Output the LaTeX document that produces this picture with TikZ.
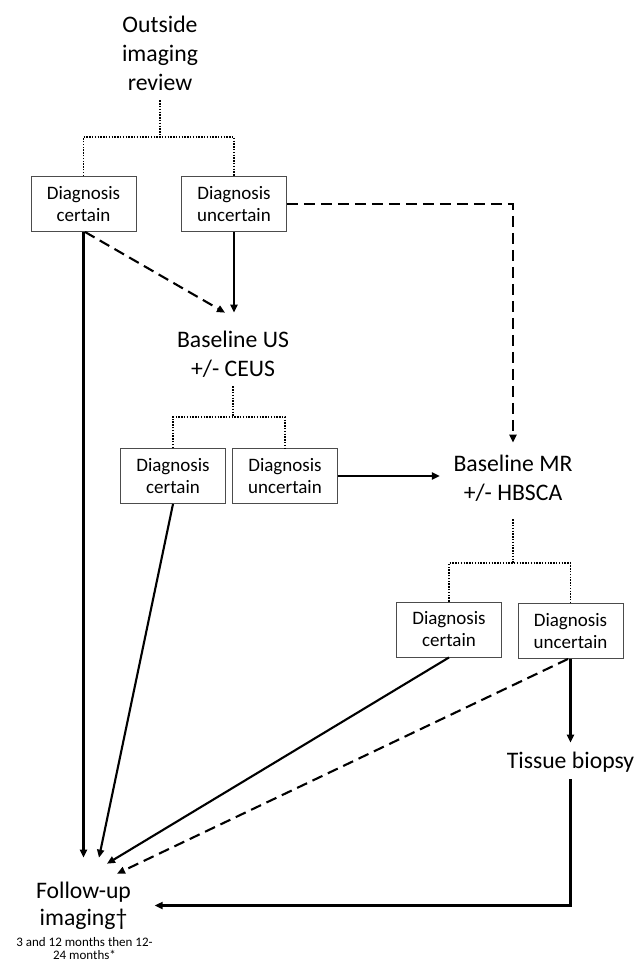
\documentclass[tikz,border=0pt]{standalone}
\usepackage{fontspec}
\setmainfont{Carlito}
\usetikzlibrary{arrows.meta,calc}
\begin{document}
\begin{tikzpicture}[x=1pt,y=-1pt,
  bigtext/.style={inner sep=0pt,align=center,font=\fontsize{23.7}{28.8}\selectfont},
  diagbox/.style={draw=black!70,line width=0.9pt,minimum width=105pt,minimum height=55pt,inner sep=0pt,align=center,font=\fontsize{19}{22}\selectfont},
  arr/.style={line width=2.1pt,-{Triangle[length=8pt,width=7pt]}},
  dasharr/.style={line width=2.1pt,dash pattern=on 11pt off 6pt,-{Triangle[length=8pt,width=7pt]}},
  dotline/.style={line width=1.5pt,dash pattern=on 1.4pt off 1.4pt}]
\useasboundingbox (0,0) rectangle (638,965);
% text nodes
\node[bigtext] (out) at (160,53.5) {Outside\\imaging\\review};
\node[bigtext] (us) at (233,354) {Baseline US\\+/- CEUS};
\node[bigtext] (mr) at (513,478) {Baseline MR\\+/- HBSCA};
\node[bigtext] (tb) at (570.5,762) {Tissue biopsy};
\node[inner sep=0pt,align=center,font=\fontsize{23.7}{26.7}\selectfont] (fu) at (83.5,905.5) {Follow-up\\imaging†};
\node[inner sep=0pt,align=center,font=\fontsize{13}{13}\selectfont] (fusub) at (84.5,948.5) {3 and 12 months then 12-\\24 months*};
% boxes
\node[diagbox] (b1) at (83.5,204) {Diagnosis\\certain};
\node[diagbox] (b2) at (234,204) {Diagnosis\\uncertain};
\node[diagbox] (b3) at (173,476) {Diagnosis\\certain};
\node[diagbox] (b4) at (285,476) {Diagnosis\\uncertain};
\node[diagbox] (b5) at (449,629.5) {Diagnosis\\certain};
\node[diagbox] (b6) at (570.5,631) {Diagnosis\\uncertain};
% junctions
\coordinate (j1) at (160,137);
\coordinate (j2) at (233,417);
\coordinate (j3) at (513,563);
% dotted trees
\draw[dotline] ([yshift=-9.5pt]out.south) -- (j1);
\draw[dotline] (b1.north) |- (j1) -| (b2.north);
\draw[dotline] ([yshift=-9pt]us.south) -- (j2);
\draw[dotline] (b3.north) |- (j2) -| (b4.north);
\draw[dotline] ([yshift=-18pt]mr.south) -- (j3);
\draw[dotline] (b5.north) |- (j3) -| (b6.north);
% connectors
\draw[dasharr, shorten >=12pt] (b2.east) -| (mr.north);
\draw[arr, shorten >=18pt] (b2.south) -- (b2.south |- us.north);
\draw[dasharr] ([xshift=1.5pt]b1.south) -- ([xshift=-8pt,yshift=18pt]us.north);
\draw[arr, shorten >=13.5pt] (b4.east) -- (b4.east -| mr.west);
\draw[arr, shorten >=9pt] (b6.south) -- (b6.south |- tb.north);
\draw[arr] (b1.south) -- ([yshift=24pt]fu.north);
\draw[arr] (b3.south) -- ([xshift=15.5pt,yshift=24pt]fu.north);
\draw[arr] (b5.south) -- ([xshift=23.5pt,yshift=18pt]fu.north);
\draw[dasharr] ([xshift=-2.5pt]b6.south) -- ([xshift=33.5pt,yshift=8pt]fu.north);
\draw[arr] ([yshift=-7pt]tb.south) |- ([xshift=23.5pt]fu.east);
\end{tikzpicture}
\end{document}
